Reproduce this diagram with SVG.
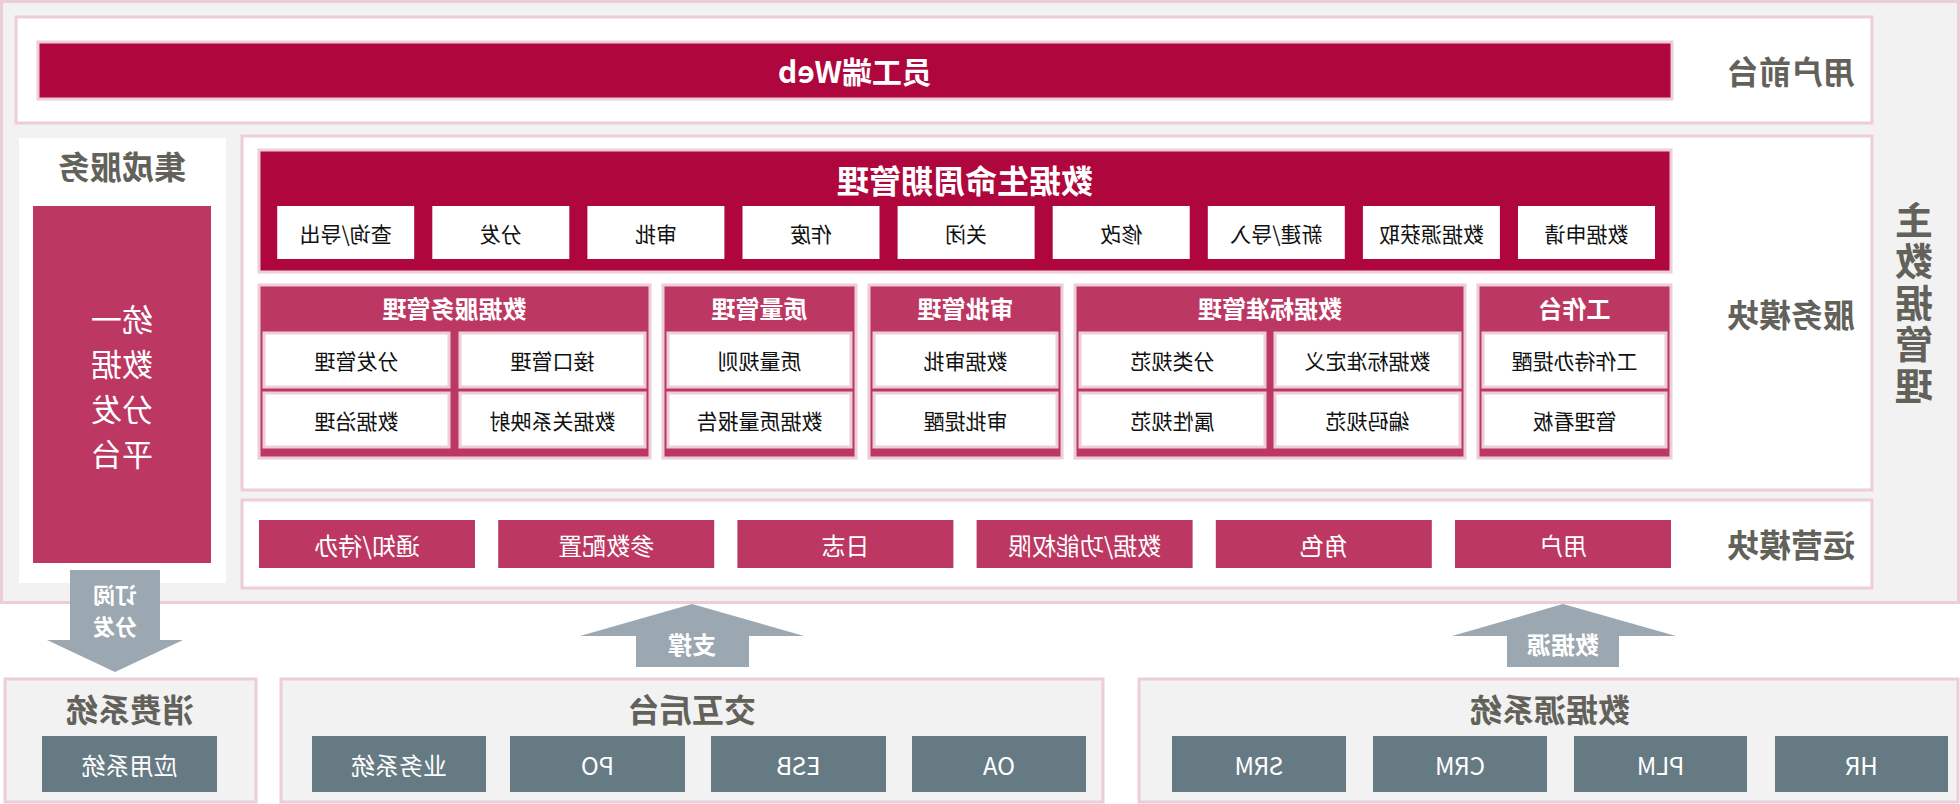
<svg xmlns="http://www.w3.org/2000/svg" width="1960" height="804" viewBox="0 0 1960 804">
<style>
text{font-family:"Noto Sans CJK SC","Noto Sans",sans-serif;text-anchor:middle;dominant-baseline:central}
.panel{fill:#ffffff;stroke:#eccdd8;stroke-width:3}
.gpanel{fill:#f2f2f2;stroke:#eccdd8;stroke-width:3}
.crim{fill:#ae063d;stroke:#eccdd8;stroke-width:3}
.grp{fill:#bc3762;stroke:#eccdd8;stroke-width:3}
.pinkbox{fill:#bc3762}
.wbox{fill:#ffffff;stroke:#eccdd8;stroke-width:3}
.wbox0{fill:#ffffff}
.slate{fill:#667a83}
.arrow{fill:#9ba7b1}
.lbl{fill:#62615a;font-size:32px;font-weight:700}
.vl{fill:#62615a;font-size:38px;font-weight:700;writing-mode:vertical-rl;text-orientation:upright;letter-spacing:3.5px}
.ttl{fill:#ffffff;font-weight:700}
.wt{fill:#ffffff}
.bt{fill:#111111;font-size:21px}
</style>
<g transform="matrix(-1 0 0 1 1960 0)">
<g id="main-panel">
<rect class="gpanel" x="1.5" y="1.5" width="1957" height="601"/>
<text class="vl" x="46" y="304">主数据管理</text>
</g>
<g id="user-front">
<rect class="panel" x="88" y="17" width="1856" height="106"/>
<rect class="crim" x="288" y="42" width="1634" height="57"/>
<text class="ttl" x="1105" y="70" style="font-size:30px">员工端Web</text>
<text class="lbl" x="169" y="70">用户前台</text>
</g>
<g id="integration">
<rect x="1734" y="138" width="207" height="445" fill="#ffffff"/>
<text class="lbl" x="1838" y="165">集成服务</text>
<rect class="pinkbox" x="1749" y="206" width="178" height="357"/>
<text class="wt" style="font-size:31px"><tspan x="1838" y="317">统一</tspan><tspan x="1838" y="362">数据</tspan><tspan x="1838" y="407">分发</tspan><tspan x="1838" y="452">平台</tspan></text>
</g>
<g id="service-module">
<rect class="panel" x="88" y="136" width="1630" height="354"/>
<text class="lbl" x="169" y="313">服务模块</text>
</g>
<g id="lifecycle">
<rect class="crim" x="289" y="150" width="1412" height="122"/>
<text class="ttl" x="995" y="179" style="font-size:32px">数据生命周期管理</text>
<rect class="wbox0" x="305" y="206" width="137" height="53"/><text class="bt" x="373.5" y="232.5">数据申请</text>
<rect class="wbox0" x="460.1" y="206" width="137" height="53"/><text class="bt" x="528.6" y="232.5">数据源获取</text>
<rect class="wbox0" x="615.2" y="206" width="137" height="53"/><text class="bt" x="683.7" y="232.5">新建/导入</text>
<rect class="wbox0" x="770.3" y="206" width="137" height="53"/><text class="bt" x="838.8" y="232.5">修改</text>
<rect class="wbox0" x="925.4" y="206" width="137" height="53"/><text class="bt" x="993.9" y="232.5">关闭</text>
<rect class="wbox0" x="1080.5" y="206" width="137" height="53"/><text class="bt" x="1149" y="232.5">作废</text>
<rect class="wbox0" x="1235.6" y="206" width="137" height="53"/><text class="bt" x="1304.1" y="232.5">审批</text>
<rect class="wbox0" x="1390.7" y="206" width="137" height="53"/><text class="bt" x="1459.2" y="232.5">分发</text>
<rect class="wbox0" x="1545.8" y="206" width="137" height="53"/><text class="bt" x="1614.3" y="232.5">查询/导出</text>
</g>
<g id="workbench">
<rect class="grp" x="289" y="285" width="193" height="173"/>
<text class="ttl" x="385.5" y="307" style="font-size:24px">工作台</text>
<rect class="wbox" x="294" y="333" width="183" height="54"/><text class="bt" x="385.5" y="360">工作待办提醒</text>
<rect class="wbox" x="294" y="393" width="183" height="54"/><text class="bt" x="385.5" y="420">管理看板</text>
</g>
<g id="standard-mgmt">
<rect class="grp" x="495" y="285" width="390" height="173"/>
<text class="ttl" x="690" y="307" style="font-size:24px">数据标准管理</text>
<rect class="wbox" x="500" y="333" width="185" height="54"/><text class="bt" x="592.5" y="360">数据标准定义</text>
<rect class="wbox" x="695" y="333" width="185" height="54"/><text class="bt" x="787.5" y="360">分类规范</text>
<rect class="wbox" x="500" y="393" width="185" height="54"/><text class="bt" x="592.5" y="420">编码规范</text>
<rect class="wbox" x="695" y="393" width="185" height="54"/><text class="bt" x="787.5" y="420">属性规范</text>
</g>
<g id="approval-mgmt">
<rect class="grp" x="898" y="285" width="193" height="173"/>
<text class="ttl" x="994.5" y="307" style="font-size:24px">审批管理</text>
<rect class="wbox" x="903" y="333" width="183" height="54"/><text class="bt" x="994.5" y="360">数据审批</text>
<rect class="wbox" x="903" y="393" width="183" height="54"/><text class="bt" x="994.5" y="420">审批提醒</text>
</g>
<g id="quality-mgmt">
<rect class="grp" x="1104" y="285" width="193" height="173"/>
<text class="ttl" x="1200.5" y="307" style="font-size:24px">质量管理</text>
<rect class="wbox" x="1109" y="333" width="183" height="54"/><text class="bt" x="1200.5" y="360">质量规则</text>
<rect class="wbox" x="1109" y="393" width="183" height="54"/><text class="bt" x="1200.5" y="420">数据质量报告</text>
</g>
<g id="service-mgmt">
<rect class="grp" x="1310" y="285" width="391" height="173"/>
<text class="ttl" x="1505.5" y="307" style="font-size:24px">数据服务管理</text>
<rect class="wbox" x="1315" y="333" width="185" height="54"/><text class="bt" x="1407.5" y="360">接口管理</text>
<rect class="wbox" x="1511" y="333" width="185" height="54"/><text class="bt" x="1603.5" y="360">分发管理</text>
<rect class="wbox" x="1315" y="393" width="185" height="54"/><text class="bt" x="1407.5" y="420">数据关系映射</text>
<rect class="wbox" x="1511" y="393" width="185" height="54"/><text class="bt" x="1603.5" y="420">数据治理</text>
</g>
<g id="ops-module">
<rect class="panel" x="88" y="500" width="1630" height="88"/>
<text class="lbl" x="169" y="543">运营模块</text>
<rect class="pinkbox" x="289" y="520" width="216" height="48"/><text class="wt" x="397" y="544" style="font-size:24px">用户</text>
<rect class="pinkbox" x="528.2" y="520" width="216" height="48"/><text class="wt" x="636.2" y="544" style="font-size:24px">角色</text>
<rect class="pinkbox" x="767.4" y="520" width="216" height="48"/><text class="wt" x="875.4" y="544" style="font-size:24px">数据/功能权限</text>
<rect class="pinkbox" x="1006.6" y="520" width="216" height="48"/><text class="wt" x="1114.6" y="544" style="font-size:24px">日志</text>
<rect class="pinkbox" x="1245.8" y="520" width="216" height="48"/><text class="wt" x="1353.8" y="544" style="font-size:24px">参数配置</text>
<rect class="pinkbox" x="1485" y="520" width="216" height="48"/><text class="wt" x="1593" y="544" style="font-size:24px">通知/待办</text>
</g>
<g id="connectors">
<polygon class="arrow" points="1800,570 1890,570 1890,640 1913,640 1845,672 1777,640 1800,640"/>
<text class="ttl" style="font-size:22px"><tspan x="1845" y="593">订阅</tspan><tspan x="1845" y="625">分发</tspan></text>
<polygon class="arrow" points="1268,604 1380,636 1324,636 1324,667 1211,667 1211,636 1156,636"/>
<text class="ttl" x="1268" y="643" style="font-size:24px">支撑</text>
<polygon class="arrow" points="397,604 508,636 453,636 453,667 341,667 341,636 284,636"/>
<text class="ttl" x="397" y="643" style="font-size:24px">数据源</text>
</g>
<g id="consumer-systems">
<rect class="gpanel" x="1704" y="679" width="251" height="123"/>
<text class="lbl" x="1830" y="708">消费系统</text>
<rect class="slate" x="1743" y="736" width="175" height="56"/><text class="wt" x="1830.5" y="764" style="font-size:24px">应用系统</text>
</g>
<g id="interaction-backend">
<rect class="gpanel" x="857" y="679" width="822" height="123"/>
<text class="lbl" x="1268" y="708">交互后台</text>
<rect class="slate" x="1474" y="736" width="174" height="56"/><text class="wt" x="1561" y="764" style="font-size:24px">业务系统</text>
<rect class="slate" x="1275" y="736" width="175" height="56"/><text class="wt" x="1362.5" y="764" style="font-size:24px">PO</text>
<rect class="slate" x="1074" y="736" width="175" height="56"/><text class="wt" x="1161.5" y="764" style="font-size:24px">ESB</text>
<rect class="slate" x="874" y="736" width="174" height="56"/><text class="wt" x="961" y="764" style="font-size:24px">OA</text>
</g>
<g id="source-systems">
<rect class="gpanel" x="2" y="679" width="819" height="123"/>
<text class="lbl" x="410" y="708">数据源系统</text>
<rect class="slate" x="614" y="736" width="174" height="56"/><text class="wt" x="701" y="764" style="font-size:24px">SRM</text>
<rect class="slate" x="413" y="736" width="174" height="56"/><text class="wt" x="500" y="764" style="font-size:24px">CRM</text>
<rect class="slate" x="213" y="736" width="173" height="56"/><text class="wt" x="299.5" y="764" style="font-size:24px">PLM</text>
<rect class="slate" x="12" y="736" width="173" height="56"/><text class="wt" x="98.5" y="764" style="font-size:24px">HR</text>
</g>
</g>
</svg>
